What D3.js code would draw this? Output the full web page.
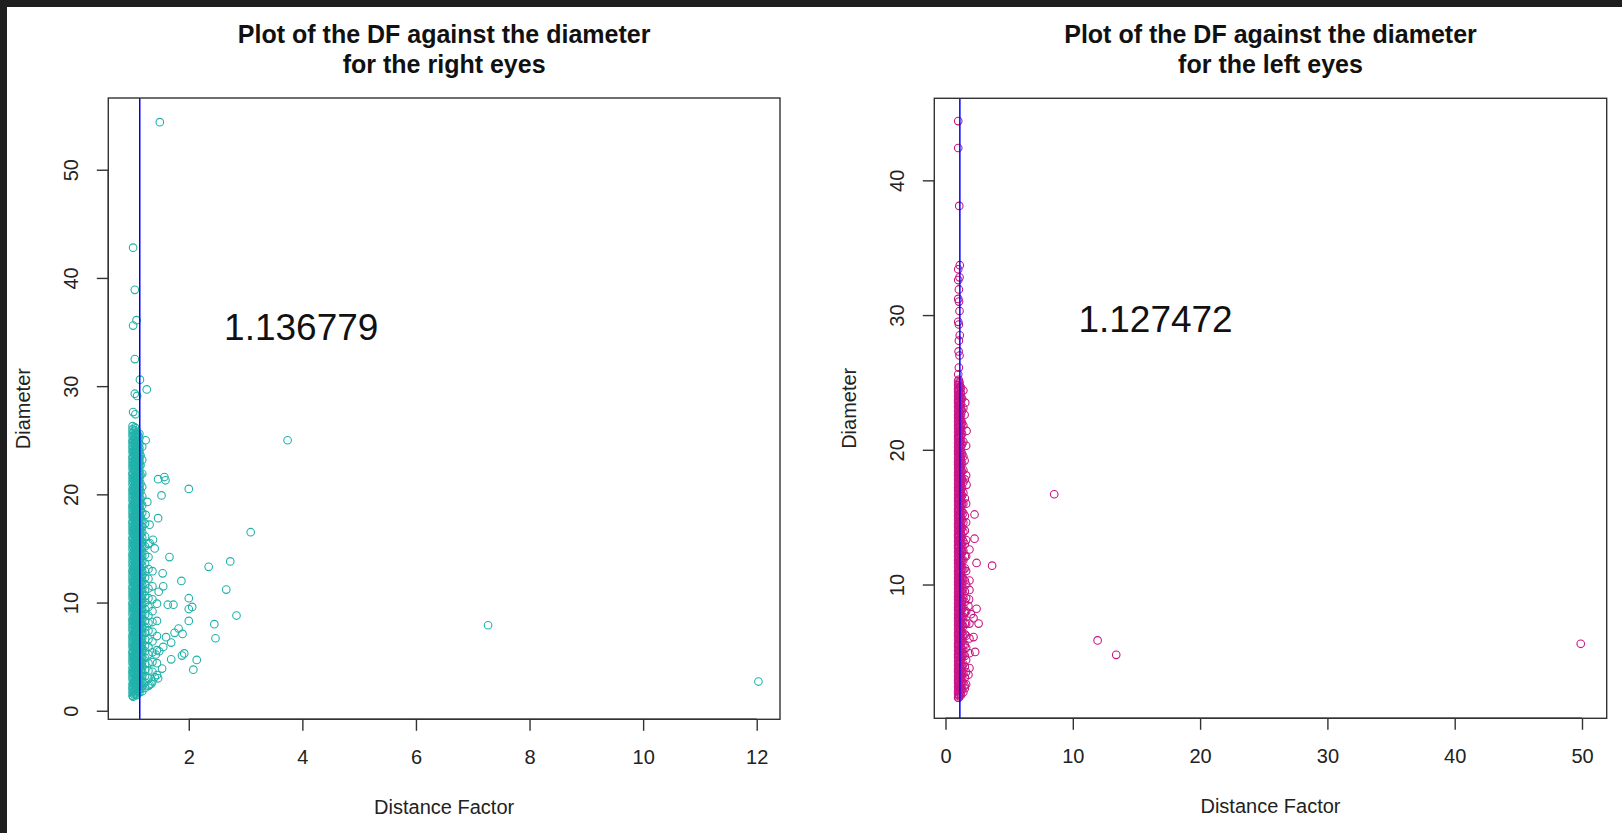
<!DOCTYPE html>
<html>
<head>
<meta charset="utf-8">
<script src="https://cdn.jsdelivr.net/npm/d3@7"></script>
<style>
  html, body { margin: 0; padding: 0; background: #ffffff; }
  svg { display: block; }
  text { font-family: "Liberation Sans", Arial, Helvetica, sans-serif; }
</style>
</head>
<body>
<svg id="chart" width="1622" height="833"></svg>
<script>
// ---- Text ----
const rightEyeTitle = ["Plot of the DF against the diameter", "for the right eyes"];
const leftEyeTitle = ["Plot of the DF against the diameter", "for the left eyes"];
const xAxisTitle = "Distance Factor";
const yAxisTitle = "Diameter";

// ---- Tick values ----
const rightEyeXTicks = [2, 4, 6, 8, 10, 12];
const rightEyeYTicks = [0, 10, 20, 30, 40, 50];
const leftEyeXTicks = [0, 10, 20, 30, 40, 50];
const leftEyeYTicks = [10, 20, 30, 40];

// ---- Mean distance factor per eye ----
const rightEyeMeanDF = 1.136779;
const leftEyeMeanDF = 1.127472;

// ---- Right eyes: dense core, grouped by distance factor ----
const rightEyeBandDF = [1.01, 1.03, 1.05, 1.07, 1.09, 1.11, 1.13, 1.15, 1.18, 1.23, 1.29, 1.36, 1.44];
const rightEyeBandDiameters = [
  [1.4, 1.7, 2.0, 2.2, 2.5, 2.9, 3.2, 3.5, 3.7, 4.0, 4.4, 4.7, 5.0, 5.3, 5.5, 5.9, 6.2, 6.5, 6.8, 7.0, 7.4, 7.7, 8.0, 8.3, 8.5, 8.9, 9.2, 9.5, 9.8, 10.0, 10.4, 10.7, 11.0, 11.3, 11.5, 11.9, 12.2, 12.5, 12.8, 13.0, 13.4, 13.7, 14.0, 14.3, 14.5, 14.9, 15.2, 15.5, 15.8, 16.0, 16.4, 16.7, 17.0, 17.3, 17.5, 17.9, 18.2, 18.5, 18.8, 19.0, 19.4, 19.7, 20.0, 20.3, 20.5, 20.9, 21.2, 21.5, 21.8, 22.0, 22.4, 22.7, 23.0, 23.3, 23.5, 23.9, 24.2, 24.5, 24.8, 25.0, 25.4, 25.7, 26.0, 26.3],
  [1.5, 1.8, 2.2, 2.5, 2.7, 3.0, 3.4, 3.6, 3.9, 4.3, 4.6, 4.9, 5.1, 5.4, 5.8, 6.0, 6.3, 6.7, 7.0, 7.2, 7.5, 7.9, 8.2, 8.4, 8.7, 9.1, 9.4, 9.6, 9.9, 10.3, 10.6, 10.8, 11.1, 11.5, 11.8, 12.0, 12.3, 12.7, 13.0, 13.2, 13.5, 13.9, 14.2, 14.4, 14.7, 15.1, 15.4, 15.6, 15.9, 16.3, 16.6, 16.8, 17.1, 17.5, 17.8, 18.0, 18.3, 18.7, 19.0, 19.2, 19.5, 19.9, 20.2, 20.4, 20.7, 21.1, 21.4, 21.6, 21.9, 22.3, 22.6, 22.8, 23.1, 23.5, 23.8, 24.0, 24.3, 24.7, 25.0, 25.3, 25.8],
  [1.6, 1.9, 2.3, 2.6, 2.8, 3.1, 3.4, 3.8, 4.1, 4.3, 4.6, 4.9, 5.2, 5.6, 5.8, 6.1, 6.4, 6.7, 7.1, 7.3, 7.6, 7.9, 8.2, 8.6, 8.8, 9.1, 9.4, 9.7, 10.1, 10.3, 10.6, 10.9, 11.2, 11.6, 11.8, 12.1, 12.4, 12.7, 13.1, 13.3, 13.6, 13.9, 14.2, 14.6, 14.8, 15.1, 15.4, 15.7, 16.1, 16.3, 16.6, 16.9, 17.2, 17.6, 17.8, 18.1, 18.4, 18.7, 19.1, 19.3, 19.6, 19.9, 20.2, 20.6, 20.8, 21.1, 21.4, 21.7, 22.1, 22.3, 22.6, 22.9, 23.2, 23.6, 23.8, 24.1, 24.4, 24.7, 25.1, 25.5, 25.9, 26.2],
  [1.6, 2.0, 2.3, 2.6, 2.9, 3.2, 3.5, 3.8, 4.1, 4.4, 4.7, 5.0, 5.3, 5.6, 5.9, 6.2, 6.5, 6.8, 7.1, 7.4, 7.7, 8.0, 8.3, 8.6, 8.9, 9.2, 9.5, 9.8, 10.1, 10.4, 10.7, 11.0, 11.3, 11.6, 11.9, 12.2, 12.5, 12.8, 13.1, 13.4, 13.7, 14.0, 14.3, 14.6, 14.9, 15.2, 15.5, 15.8, 16.1, 16.4, 16.7, 17.0, 17.3, 17.6, 17.9, 18.2, 18.5, 18.8, 19.1, 19.4, 19.7, 20.0, 20.3, 20.6, 20.9, 21.2, 21.5, 21.8, 22.1, 22.4, 22.7, 23.0, 23.3, 23.6, 23.9, 24.2, 24.5, 24.8, 25.2, 25.6, 26.1],
  [1.5, 1.8, 2.1, 2.4, 2.7, 3.0, 3.3, 3.6, 3.9, 4.2, 4.5, 4.8, 5.1, 5.4, 5.7, 6.0, 6.3, 6.6, 6.9, 7.2, 7.5, 7.8, 8.1, 8.4, 8.7, 9.0, 9.3, 9.6, 9.9, 10.2, 10.5, 10.8, 11.1, 11.4, 11.7, 12.0, 12.3, 12.6, 12.9, 13.2, 13.5, 13.8, 14.1, 14.4, 14.7, 15.0, 15.3, 15.6, 15.9, 16.2, 16.5, 16.8, 17.1, 17.4, 17.7, 18.0, 18.3, 18.6, 18.9, 19.2, 19.5, 19.8, 20.1, 20.4, 20.7, 21.0, 21.3, 21.6, 21.9, 22.2, 22.5, 22.8, 23.1, 23.4, 23.7, 24.0, 24.3, 24.6, 24.9, 25.3, 25.7],
  [1.9, 2.2, 2.5, 2.8, 3.1, 3.4, 3.7, 4.0, 4.3, 4.6, 4.9, 5.2, 5.5, 5.8, 6.1, 6.4, 6.7, 7.0, 7.3, 7.6, 7.9, 8.2, 8.5, 8.8, 9.1, 9.4, 9.7, 10.0, 10.3, 10.6, 10.9, 11.2, 11.5, 11.8, 12.1, 12.4, 12.7, 13.0, 13.3, 13.6, 13.9, 14.2, 14.5, 14.8, 15.1, 15.4, 15.7, 16.0, 16.3, 16.6, 16.9, 17.2, 17.5, 17.8, 18.1, 18.4, 18.7, 19.0, 19.3, 19.6, 19.9, 20.2, 20.5, 20.8, 21.1, 21.4, 21.7, 22.0, 22.3, 22.6, 22.9, 23.2, 23.5, 23.8, 24.1, 24.4, 24.8, 25.4],
  [1.7, 2.0, 2.3, 2.7, 3.0, 3.2, 3.5, 3.9, 4.2, 4.4, 4.7, 5.0, 5.4, 5.7, 5.9, 6.2, 6.6, 6.9, 7.1, 7.4, 7.7, 8.1, 8.4, 8.6, 8.9, 9.3, 9.6, 9.8, 10.1, 10.5, 10.8, 11.0, 11.3, 11.7, 12.0, 12.2, 12.5, 12.9, 13.2, 13.4, 13.7, 14.1, 14.4, 14.6, 14.9, 15.3, 15.6, 15.8, 16.1, 16.5, 16.8, 17.0, 17.3, 17.7, 18.0, 18.2, 18.5, 18.9, 19.2, 19.4, 19.7, 20.1, 20.4, 20.6, 20.9, 21.3, 21.6, 21.8, 22.1, 22.5, 22.8, 23.0, 23.3, 23.7, 24.0, 24.3, 24.7, 25.2, 25.6],
  [2.0, 2.4, 2.8, 3.3, 3.7, 4.1, 4.6, 5.0, 5.4, 5.9, 6.3, 6.7, 7.2, 7.6, 8.0, 8.5, 8.9, 9.3, 9.8, 10.2, 10.6, 11.1, 11.5, 11.9, 12.4, 12.8, 13.2, 13.7, 14.1, 14.5, 15.0, 15.4, 15.8, 16.3, 16.7, 17.1, 17.6, 18.0, 18.5, 19.1, 19.6, 20.3, 21.0, 21.8, 22.7, 23.6],
  [1.8, 2.3, 2.7, 3.2, 3.6, 4.1, 4.5, 5.0, 5.4, 5.8, 6.3, 6.7, 7.2, 7.6, 8.1, 8.5, 8.9, 9.4, 9.8, 10.3, 10.7, 11.2, 11.6, 12.0, 12.5, 12.9, 13.4, 13.8, 14.3, 14.7, 15.1, 15.6, 16.0, 16.5, 17.0, 17.6, 18.3, 19.0, 19.8, 20.7, 21.9, 23.2],
  [2.1, 2.6, 3.2, 3.8, 4.3, 4.9, 5.5, 6.0, 6.6, 7.2, 7.7, 8.3, 8.9, 9.4, 10.0, 10.6, 11.1, 11.7, 12.3, 12.9, 13.6, 14.4, 15.2, 16.1, 17.3],
  [2.3, 3.0, 3.7, 4.4, 5.2, 5.9, 6.6, 7.4, 8.1, 8.8, 9.6, 10.4, 11.3, 12.2, 13.1, 14.2, 15.4],
  [2.7, 3.6, 4.5, 5.4, 6.4, 7.3, 8.2, 9.2, 10.3, 11.5, 12.9],
  [3.3, 4.4, 5.6, 6.9, 8.3, 9.9]
];
// Right eyes: individual points away from the core, [DF, diameter]
const rightEyeScatter = [
  [1.49, 54.4], [1.02, 42.8], [1.05, 38.9], [1.02, 35.6], [1.08, 36.1], [1.05, 32.5],
  [1.14, 30.6], [1.26, 29.7], [1.05, 29.3], [1.09, 29.1], [1.02, 27.6], [1.06, 27.4],
  [1.24, 25.0], [1.18, 24.4], [3.74, 25.0], [1.46, 21.4], [1.57, 21.6], [1.59, 21.3],
  [2.00, 20.5], [1.52, 19.9], [1.27, 19.3], [1.46, 17.8], [1.24, 18.1], [1.31, 17.2],
  [3.09, 16.5], [1.37, 15.8], [1.31, 15.5], [1.40, 15.0], [1.66, 14.2], [2.35, 13.3],
  [2.73, 13.8], [1.54, 12.7], [1.87, 12.0], [1.55, 11.5], [1.47, 11.0], [2.66, 11.2],
  [2.00, 10.4], [2.06, 9.6], [2.00, 9.4], [1.73, 9.8], [1.63, 9.8], [2.84, 8.8],
  [2.00, 8.3], [2.45, 8.0], [1.82, 7.6], [1.89, 7.1], [1.75, 7.2], [1.60, 6.8],
  [2.47, 6.7], [1.69, 6.3], [1.55, 5.9], [1.48, 5.5], [1.92, 5.3], [1.88, 5.1],
  [2.14, 4.7], [2.08, 3.8], [1.69, 4.75], [1.53, 3.9], [1.46, 3.0], [1.31, 2.4],
  [1.34, 2.5], [1.42, 5.2], [1.40, 3.1], [1.02, 1.3], [1.08, 1.45], [7.27, 7.9], [12.03, 2.7]
];

// ---- Left eyes: dense core, grouped by distance factor ----
const leftEyeBandDF = [0.99, 1.04, 1.10, 1.16, 1.22, 1.30, 1.40, 1.52, 1.62, 1.88];
const leftEyeBandDiameters = [
  [1.6, 1.9, 2.1, 2.4, 2.7, 2.9, 3.2, 3.5, 3.7, 4.0, 4.3, 4.6, 4.8, 5.1, 5.4, 5.6, 5.9, 6.2, 6.4, 6.7, 7.0, 7.3, 7.5, 7.8, 8.1, 8.3, 8.6, 8.9, 9.1, 9.4, 9.7, 10.0, 10.2, 10.5, 10.8, 11.0, 11.3, 11.6, 11.8, 12.1, 12.4, 12.7, 12.9, 13.2, 13.5, 13.7, 14.0, 14.3, 14.5, 14.8, 15.1, 15.4, 15.6, 15.9, 16.2, 16.4, 16.7, 17.0, 17.2, 17.5, 17.8, 18.1, 18.3, 18.6, 18.9, 19.1, 19.4, 19.7, 19.9, 20.2, 20.5, 20.8, 21.0, 21.3, 21.6, 21.8, 22.1, 22.4, 22.6, 22.9, 23.2, 23.5, 23.7, 24.0, 24.3, 24.5, 24.8, 25.1],
  [1.6, 1.8, 2.2, 2.5, 2.8, 3.0, 3.3, 3.6, 3.8, 4.1, 4.4, 4.7, 4.9, 5.2, 5.5, 5.7, 6.0, 6.3, 6.5, 6.8, 7.1, 7.4, 7.6, 7.9, 8.2, 8.4, 8.7, 9.0, 9.2, 9.5, 9.8, 10.1, 10.3, 10.6, 10.9, 11.1, 11.4, 11.7, 11.9, 12.2, 12.5, 12.8, 13.0, 13.3, 13.6, 13.8, 14.1, 14.4, 14.6, 14.9, 15.2, 15.5, 15.7, 16.0, 16.3, 16.5, 16.8, 17.1, 17.3, 17.6, 17.9, 18.2, 18.4, 18.7, 19.0, 19.2, 19.5, 19.8, 20.0, 20.3, 20.6, 20.9, 21.1, 21.4, 21.7, 21.9, 22.2, 22.5, 22.7, 23.0, 23.3, 23.6, 23.8, 24.1, 24.4, 24.6, 24.9, 25.2],
  [1.7, 2.0, 2.3, 2.5, 2.8, 3.1, 3.4, 3.6, 3.9, 4.2, 4.4, 4.7, 5.0, 5.2, 5.5, 5.8, 6.1, 6.3, 6.6, 6.9, 7.1, 7.4, 7.7, 7.9, 8.2, 8.5, 8.8, 9.0, 9.3, 9.6, 9.8, 10.1, 10.4, 10.6, 10.9, 11.2, 11.5, 11.7, 12.0, 12.3, 12.5, 12.8, 13.1, 13.3, 13.6, 13.9, 14.2, 14.4, 14.7, 15.0, 15.2, 15.5, 15.8, 16.0, 16.3, 16.6, 16.9, 17.1, 17.4, 17.7, 17.9, 18.2, 18.5, 18.7, 19.0, 19.3, 19.6, 19.8, 20.1, 20.4, 20.6, 20.9, 21.2, 21.4, 21.7, 22.0, 22.3, 22.5, 22.8, 23.1, 23.3, 23.6, 23.9, 24.1, 24.4, 24.7, 25.0],
  [1.9, 2.3, 2.6, 3.0, 3.4, 3.8, 4.2, 4.6, 5.0, 5.4, 5.8, 6.2, 6.6, 7.0, 7.4, 7.8, 8.2, 8.6, 9.0, 9.4, 9.8, 10.2, 10.6, 11.0, 11.4, 11.8, 12.2, 12.6, 13.0, 13.4, 13.8, 14.2, 14.6, 15.0, 15.4, 15.8, 16.2, 16.6, 17.0, 17.4, 17.8, 18.2, 18.6, 19.0, 19.4, 19.8, 20.2, 20.6, 21.0, 21.4, 21.8, 22.2, 22.6, 23.0, 23.4, 23.8, 24.2, 24.7],
  [1.8, 2.2, 2.6, 3.0, 3.3, 3.7, 4.1, 4.5, 4.9, 5.3, 5.7, 6.0, 6.4, 6.8, 7.2, 7.6, 8.0, 8.4, 8.7, 9.1, 9.5, 9.9, 10.3, 10.7, 11.1, 11.4, 11.8, 12.2, 12.6, 13.0, 13.4, 13.8, 14.1, 14.5, 14.9, 15.3, 15.7, 16.1, 16.5, 16.8, 17.2, 17.6, 18.0, 18.4, 18.8, 19.2, 19.5, 19.9, 20.3, 20.7, 21.1, 21.5, 21.9, 22.2, 22.6, 23.0, 23.4, 23.8, 24.2, 24.6],
  [2.2, 2.8, 3.4, 4.0, 4.6, 5.2, 5.8, 6.4, 7.0, 7.6, 8.2, 8.8, 9.4, 10.0, 10.6, 11.2, 11.8, 12.4, 13.0, 13.6, 14.2, 14.8, 15.4, 16.0, 16.6, 17.2, 17.8, 18.4, 19.0, 19.7, 20.4, 21.2, 22.0, 22.9, 23.8],
  [2.0, 2.7, 3.4, 4.1, 4.8, 5.5, 6.2, 6.9, 7.6, 8.3, 9.0, 9.7, 10.4, 11.1, 11.8, 12.5, 13.2, 13.9, 14.6, 15.3, 16.0, 16.8, 17.6, 18.5, 19.5, 20.6, 21.8, 23.1, 24.4],
  [2.3, 3.1, 3.9, 4.7, 5.5, 6.3, 7.1, 7.9, 8.7, 9.5, 10.3, 11.2, 12.1, 13.0, 14.0, 15.1, 16.4, 17.8],
  [2.6, 3.5, 4.4, 5.3, 6.2, 7.1, 8.0, 9.0, 10.0, 11.0, 12.1, 13.3, 14.6, 16.0, 18.1, 20.3],
  [3.8, 4.9, 6.0, 7.1, 9.6, 10.3, 12.6]
];
// Left eyes: individual points away from the core, [DF, diameter]
const leftEyeScatter = [
  [1.00, 44.4], [1.00, 42.4], [1.08, 38.1], [1.12, 33.7], [1.00, 33.4], [1.00, 32.6],
  [1.10, 32.8], [1.05, 31.9], [1.00, 31.2], [1.06, 31.0], [1.10, 30.3], [1.00, 29.5],
  [1.05, 29.3], [1.12, 28.5], [1.05, 28.1], [1.03, 27.3], [1.10, 27.0], [1.05, 26.1],
  [1.00, 25.6], [1.55, 23.5], [1.50, 22.6], [1.65, 21.4], [1.50, 19.2], [1.65, 17.4],
  [2.28, 15.2], [2.28, 13.4], [2.44, 11.6], [3.66, 11.4], [1.85, 8.9], [1.80, 8.4],
  [2.44, 8.2], [2.00, 7.8], [2.60, 7.1], [2.20, 7.5], [2.20, 6.1], [2.33, 5.0],
  [1.80, 3.3], [1.50, 2.5], [8.54, 16.7], [11.95, 5.85], [13.41, 4.78], [49.9, 5.6]
];

// ---- Drawing ----
const svg = d3.select("#chart");
const W = 1622, H = 833;

svg.append("rect").attr("width", W).attr("height", H).attr("fill", "#ffffff");
// dark frame strips along the top and left edges
svg.append("rect").attr("x", 0).attr("y", 0).attr("width", W).attr("height", 7).attr("fill", "#1f1f1f");
svg.append("rect").attr("x", 0).attr("y", 0).attr("width", 7).attr("height", H).attr("fill", "#1f1f1f");

function flatten(dfs, diams, scatter) {
  const pts = [];
  dfs.forEach((df, i) => diams[i].forEach(d => pts.push([df, d])));
  scatter.forEach(p => pts.push(p));
  return pts;
}

function drawPanel(cfg) {
  const { box, xDomain, yDomain, xTicks, yTicks, title, points, color, meanDF, labelAt } = cfg;
  const x = d3.scaleLinear().domain(xDomain).range([box.left, box.right]);
  const y = d3.scaleLinear().domain(yDomain).range([box.bottom, box.top]);
  const g = svg.append("g");

  // title
  const cx = (box.left + box.right) / 2;
  g.append("text").attr("x", cx).attr("y", 43.3)
    .attr("text-anchor", "middle").attr("font-weight", "bold")
    .attr("font-size", 25).attr("fill", "#111").text(title[0]);
  g.append("text").attr("x", cx).attr("y", 73.3)
    .attr("text-anchor", "middle").attr("font-weight", "bold")
    .attr("font-size", 25).attr("fill", "#111").text(title[1]);

  // points
  const clipId = "clip" + Math.round(box.left);
  svg.append("clipPath").attr("id", clipId).append("rect")
    .attr("x", box.left).attr("y", box.top)
    .attr("width", box.right - box.left).attr("height", box.bottom - box.top);
  g.append("g").attr("clip-path", `url(#${clipId})`)
    .selectAll("circle").data(points).join("circle")
    .attr("cx", d => x(d[0])).attr("cy", d => y(d[1]))
    .attr("r", 3.8).attr("fill", "none")
    .attr("stroke", color).attr("stroke-width", 1.1);

  // mean line
  g.append("line")
    .attr("x1", x(meanDF)).attr("x2", x(meanDF))
    .attr("y1", box.top).attr("y2", box.bottom)
    .attr("stroke", "#0000ff").attr("stroke-width", 1.5);

  // mean value label
  g.append("text").attr("x", x(labelAt[0])).attr("y", y(labelAt[1]))
    .attr("text-anchor", "middle").attr("dominant-baseline", "central")
    .attr("font-size", 37).attr("fill", "#111").text(String(meanDF));

  // frame
  g.append("rect").attr("x", box.left).attr("y", box.top)
    .attr("width", box.right - box.left).attr("height", box.bottom - box.top)
    .attr("fill", "none").attr("stroke", "#333").attr("stroke-width", 1.4);

  // x axis
  const xAxis = d3.axisBottom(x).tickValues(xTicks).tickSize(11.5).tickPadding(10)
    .tickFormat(d3.format("d"));
  const gx = g.append("g").attr("transform", `translate(0,${box.bottom})`).call(xAxis);
  gx.select(".domain").attr("d", `M${x(xTicks[0])},0H${x(xTicks[xTicks.length - 1])}`)
    .attr("stroke", "#333").attr("stroke-width", 1.4);
  gx.selectAll(".tick line").attr("stroke", "#333").attr("stroke-width", 1.4);
  gx.selectAll(".tick text").attr("font-size", 20).attr("fill", "#222")
    .attr("font-family", "'Liberation Sans', Arial, sans-serif")
    .attr("dy", null).attr("y", 37.7).attr("dominant-baseline", "central");

  // y axis
  const yAxis = d3.axisLeft(y).tickValues(yTicks).tickSize(11.5).tickFormat(d3.format("d"));
  const gy = g.append("g").attr("transform", `translate(${box.left},0)`).call(yAxis);
  gy.select(".domain").attr("d", `M0,${y(yTicks[0])}V${y(yTicks[yTicks.length - 1])}`)
    .attr("stroke", "#333").attr("stroke-width", 1.4);
  gy.selectAll(".tick line").attr("stroke", "#333").attr("stroke-width", 1.4);
  gy.selectAll(".tick text").attr("font-size", 20).attr("fill", "#222")
    .attr("font-family", "'Liberation Sans', Arial, sans-serif")
    .attr("x", null).attr("dy", null)
    .attr("text-anchor", "middle").attr("dominant-baseline", "central")
    .attr("transform", "translate(-37,0) rotate(-90)");

  // axis titles
  g.append("text").attr("x", cx).attr("y", box.bottom + 87.7)
    .attr("text-anchor", "middle").attr("dominant-baseline", "central")
    .attr("font-size", 20).attr("fill", "#222").text(xAxisTitle);
  g.append("text")
    .attr("transform", `translate(${box.left - 85},${(box.top + box.bottom) / 2}) rotate(-90)`)
    .attr("text-anchor", "middle").attr("dominant-baseline", "central")
    .attr("font-size", 20).attr("fill", "#222").text(yAxisTitle);
}

drawPanel({
  box: { left: 108.3, right: 780, top: 98, bottom: 719.3 },
  xDomain: [0.583, 12.41],
  yDomain: [-0.79, 56.63],
  xTicks: rightEyeXTicks,
  yTicks: rightEyeYTicks,
  title: rightEyeTitle,
  points: flatten(rightEyeBandDF, rightEyeBandDiameters, rightEyeScatter),
  color: "#20b2aa",
  meanDF: rightEyeMeanDF,
  labelAt: [3.98, 35.4]
});

drawPanel({
  box: { left: 934.3, right: 1606.7, top: 98.3, bottom: 718.3 },
  xDomain: [-0.88, 51.94],
  yDomain: [0.07, 46.09],
  xTicks: leftEyeXTicks,
  yTicks: leftEyeYTicks,
  title: leftEyeTitle,
  points: flatten(leftEyeBandDF, leftEyeBandDiameters, leftEyeScatter),
  color: "#c71585",
  meanDF: leftEyeMeanDF,
  labelAt: [16.5, 29.7]
});
</script>
</body>
</html>
